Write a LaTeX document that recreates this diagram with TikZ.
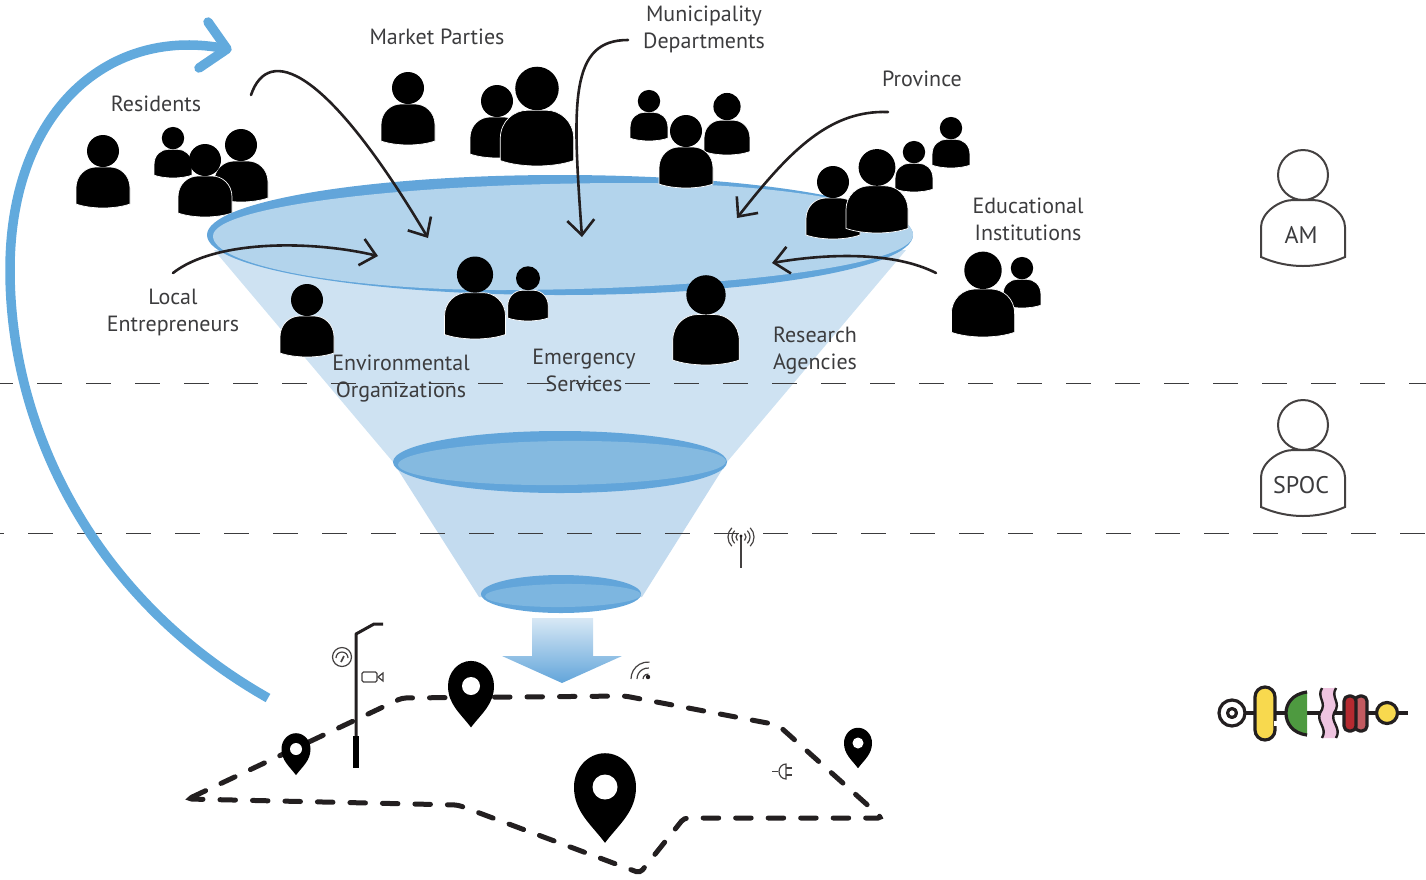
\documentclass[tikz,border=0pt]{standalone}
\usepackage{fontspec}
\setmainfont{PT Sans}
\usetikzlibrary{arrows.meta}
\definecolor{coneA}{HTML}{CEE2F2}
\definecolor{coneB}{HTML}{C3DBEF}
\definecolor{rimblue}{HTML}{62A5DA}
\definecolor{topfill}{HTML}{B3D4EC}
\definecolor{midfill}{HTML}{85BAE0}
\definecolor{botfill}{HTML}{7DB6E0}
\definecolor{loopblue}{HTML}{62AADD}
\definecolor{arrowtop}{HTML}{D8E8F5}
\definecolor{ink}{HTML}{231F20}
\definecolor{txt}{HTML}{3C3C3E}
\definecolor{iconyellow}{HTML}{F8D94E}
\definecolor{icongreen}{HTML}{4E9A40}
\definecolor{iconpink}{HTML}{EFC4E0}
\definecolor{iconred}{HTML}{B52A30}
\definecolor{iconrose}{HTML}{C25A60}
\tikzset{
  lbl/.style={font=\fontsize{22}{27}\selectfont,text=txt,align=center,inner sep=0pt},
  mgr/.style={font=\fontsize{24}{27}\selectfont,text=txt,inner sep=0pt},
  flow/.style={draw=ink,line width=2.6pt,line cap=round,-{Straight Barb[length=15pt,width=27pt,line width=2.6pt]}},
  level/.style={draw=txt,line width=1.3pt,dash pattern=on 25pt off 24pt},
  road/.style={draw=ink,line width=5pt,line cap=round,rounded corners=4pt,dash pattern=on 15.5pt off 17pt},
  thinicon/.style={draw=ink!85,line width=1.2pt,fill=none},
  outl/.style={draw=ink!85,line width=2pt,fill=white},
  blk/.style={draw=ink,line width=3.2pt,line join=round},
}
\newcommand{\persona}[3]{%
  \begin{scope}[shift={(#1,#2)},scale=#3]
    \fill[black,draw=white,line width=.7pt] (-27,-4) -- (-27,-20) .. controls (-27,-33) and (-17,-41) .. (-7,-41) -- (7,-41)
      .. controls (17,-41) and (27,-33) .. (27,-20) -- (27,-4) .. controls (12,1.3) and (-12,1.3) .. (-27,-4) -- cycle;
    \fill[black] (0,-57) circle (16);
  \end{scope}}
\newcommand{\pin}[4]{% x, y of head centre, r, hole r
  \fill[black] (#1,#2) ++(-#3,0) arc[start angle=180,end angle=360,x radius=#3,y radius=#3*1.09]
    .. controls ++(0,#3*.8) and ++(#3*.45,-#3*.6) .. ++(-#3,#3*1.8)
    .. controls ++(-#3*.45,-#3*.6) and ++(0,#3*.8) .. cycle;
  \fill[white] (#1,#2) circle (#4);}
\newcommand{\manager}[2]{%
  \begin{scope}[shift={(#1,#2)}]
    \draw[outl] (-42,82) -- (-42,52) .. controls (-42,38) and (-24,25) .. (-10,25) -- (10,25)
      .. controls (24,25) and (42,38) .. (42,52) -- (42,82) .. controls (15,94) and (-15,94) .. (-42,82) -- cycle;
    \draw[outl] (0,0) circle (25);
  \end{scope}}
\begin{document}
\begin{tikzpicture}[x=1pt,y=-1pt]
\useasboundingbox (0,0) rectangle (1426,879);
% persons behind the top rim
\persona{103}{208}{1}
\persona{173}{178}{.7}
\persona{241}{202}{1}
\persona{205}{217}{1}
\persona{408}{145}{1}
\persona{497}{158}{1}
\persona{537}{166}{1.36}
\persona{649}{141}{.7}
\persona{727}{155}{.85}
% cone
\fill[coneB] (393,462) -- (479,597) -- (642,597) -- (727,462) -- cycle;
\fill[coneA] (214,250) -- (393,462) -- (727,462) -- (906,250) -- cycle;
% top rim
\fill[rimblue] (560,235) ellipse[x radius=353,y radius=60];
\fill[topfill] (213,236) .. controls (213,207) and (400,183) .. (630,183)
   .. controls (786,183) and (913,206) .. (913,235)
   .. controls (913,268) and (700,290) .. (500,290)
   .. controls (342,290) and (213,265) .. (213,236) -- cycle;
% persons in front
\persona{686}{188}{1}
\persona{951}{168}{.7}
\persona{914}{192}{.7}
\persona{833}{239}{1}
\persona{877}{233}{1.15}
\persona{1022}{308}{.7}
\persona{983}{337}{1.17}
\persona{307}{357}{1}
\persona{475}{339}{1.13}
\persona{528}{321}{.75}
\persona{706}{365}{1.23}
% middle and bottom rims
\fill[rimblue] (560,462) ellipse[x radius=167,y radius=31];
\fill[midfill,rotate around={.6:(562,463)}] (562,463) ellipse[x radius=164,y radius=22];
\fill[rimblue] (561,594) ellipse[x radius=80,y radius=19];
\fill[botfill,rotate around={.6:(563,595.5)}] (563,595.5) ellipse[x radius=78,y radius=11.5];
% labels
\node[lbl] (residents) at (156,104) {Residents};
\node[lbl] (market) at (437,37) {Market Parties};
\node[lbl] (municipality) at (704,29) {Municipality\\Departments};
\node[lbl] (province) at (922,79) {Province};
\node[lbl] (educational) at (1028,219) {Educational\\Institutions};
\node[lbl] (local) at (173,312) {Local\\Entrepreneurs};
\node[lbl] (environmental) at (401,379) {Environmental\\Organizations};
\node[lbl] (emergency) at (584,370) {Emergency\\Services};
\node[lbl] (research) at (815,351) {Research\\Agencies};
% level lines
\draw[level,dash phase=12pt] (0,383.5) -- (1426,383.5);
\draw[level,dash phase=21pt] (0,533.5) -- (1426,533.5);
% flow arrows
\coordinate (r0) at (251,95); \coordinate (r1) at (428,238);
\coordinate (m0) at (628,40); \coordinate (m1) at (582,237);
\coordinate (p0) at (888,112); \coordinate (p1) at (737,218);
\coordinate (e0) at (936,273); \coordinate (e1) at (772,263);
\coordinate (l0) at (173,273); \coordinate (l1) at (378,256);
\draw[flow] (r0) .. controls (268,45) and (325,65) .. (r1);
\draw[flow] (m0) .. controls (570,40) and (572,100) .. (m1);
\draw[flow] (p0) .. controls (830,110) and (790,150) .. (p1);
\draw[flow] (e0) .. controls (895,252) and (830,253) .. (e1);
\draw[flow] (l0) .. controls (215,240) and (310,240) .. (l1);
% big loop arrow
\coordinate (b0) at (268,698); \coordinate (b1) at (227,49);
\draw[loopblue,line width=9.5pt] (b0) .. controls (95,600) and (10,430) .. (10,270)
   .. controls (10,110) and (110,25) .. (b1);
\draw[loopblue,line width=9.5pt,line cap=round,line join=round] (208,22) -- (b1) -- (199,68);
% down arrow
\shade[top color=arrowtop,bottom color=rimblue] (532,618) -- (593,618) -- (593,656) -- (622,656) -- (562,683) -- (502,656) -- (532,656) -- cycle;
% road
\draw[road] (188,799) -- (402,698) -- (625,696) -- (778,725) -- (882,818) -- (684,818) -- (640,873) -- (458,805) -- cycle;
% lamp post
\draw[ink,line width=3pt,line join=round] (356,736) -- (356,634) -- (374,624) -- (383,624);
\draw[black,line width=6pt] (356,736) -- (356,768);
% pins
\pin{296}{749}{14.5}{6}
\pin{471}{686}{23}{9}
\pin{605}{787}{31}{12.5}
\pin{858}{743}{14}{5.5}
% small icons
\draw[thinicon] (342,657) circle (9.5);
\draw[thinicon] (336,658) arc[start angle=180,end angle=360,radius=6];
\draw[thinicon,line width=1.6pt] (341,662) -- (344,656);
\draw[thinicon,rounded corners=1.5pt] (362,672) rectangle (377,682);
\draw[thinicon] (378,677) -- (383,673) -- (383,681) -- cycle;
\fill[ink] (648,677) circle (2.2);
\foreach \r in {5,11,17}{\draw[thinicon] (648-\r,679) arc[start angle=180,end angle=275,radius=\r];}
\draw[thinicon,line width=1.5pt] (741,536) -- (741,568);
\fill[ink] (741,536) circle (1.7);
\foreach \r in {5,9,13}{
  \draw[thinicon] (741,537) ++(135:\r) arc[start angle=135,end angle=225,radius=\r];
  \draw[thinicon] (741,537) ++(45:\r) arc[start angle=45,end angle=-45,radius=\r];}
\draw[thinicon] (772,771.5) -- (778,771.5);
\draw[thinicon] (786,764) arc[start angle=270,end angle=90,x radius=7,y radius=7.5] -- cycle;
\draw[thinicon] (786,768) -- (792,768) (786,775) -- (792,775);
% managers
\manager{1303}{175}
\node[mgr] (am) at (1301,235) {AM};
\manager{1303}{425}
\node[mgr] (spoc) at (1301,485) {SPOC};
% genetic circuit glyphs
\draw[blk] (1232,713) -- (1408,713);
\draw[blk,fill=white] (1232,713) circle (13);
\draw[blk,fill=white] (1232,713) circle (4.5);
\draw[blk,fill=iconyellow] (1255,697) arc[start angle=180,end angle=360,radius=10] -- (1275,730) arc[start angle=0,end angle=180,radius=10] -- cycle;
\draw[white,line width=4pt] (1276,721) -- (1276,726);
\fill[icongreen] (1307,692) .. controls (1292,694) and (1286,704) .. (1286,713) .. controls (1286,723) and (1292,733) .. (1307,735) -- cycle;
\draw[blk] (1307,692) .. controls (1292,694) and (1286,704) .. (1286,713) .. controls (1286,723) and (1292,733) .. (1307,735);
\fill[iconpink] (1322,688) .. controls (1316,698) and (1328,702) .. (1320,713) .. controls (1316,722) and (1328,728) .. (1322,738) -- (1336,738) .. controls (1342,728) and (1330,722) .. (1334,713) .. controls (1342,702) and (1330,698) .. (1336,688) -- cycle;
\draw[blk,line width=2.4pt] (1322,688) .. controls (1316,698) and (1328,702) .. (1320,713) .. controls (1316,722) and (1328,728) .. (1322,738);
\draw[blk,line width=2.4pt] (1336,688) .. controls (1330,698) and (1342,702) .. (1334,713) .. controls (1330,722) and (1342,728) .. (1336,738);
\draw[blk,fill=iconrose,rounded corners=5pt] (1355,696) rectangle (1367,731);
\draw[blk,fill=iconred,rounded corners=5pt] (1344,696) rectangle (1356,731);
\draw[blk,fill=iconyellow] (1387,713) circle (10.5);
\end{tikzpicture}
\end{document}
